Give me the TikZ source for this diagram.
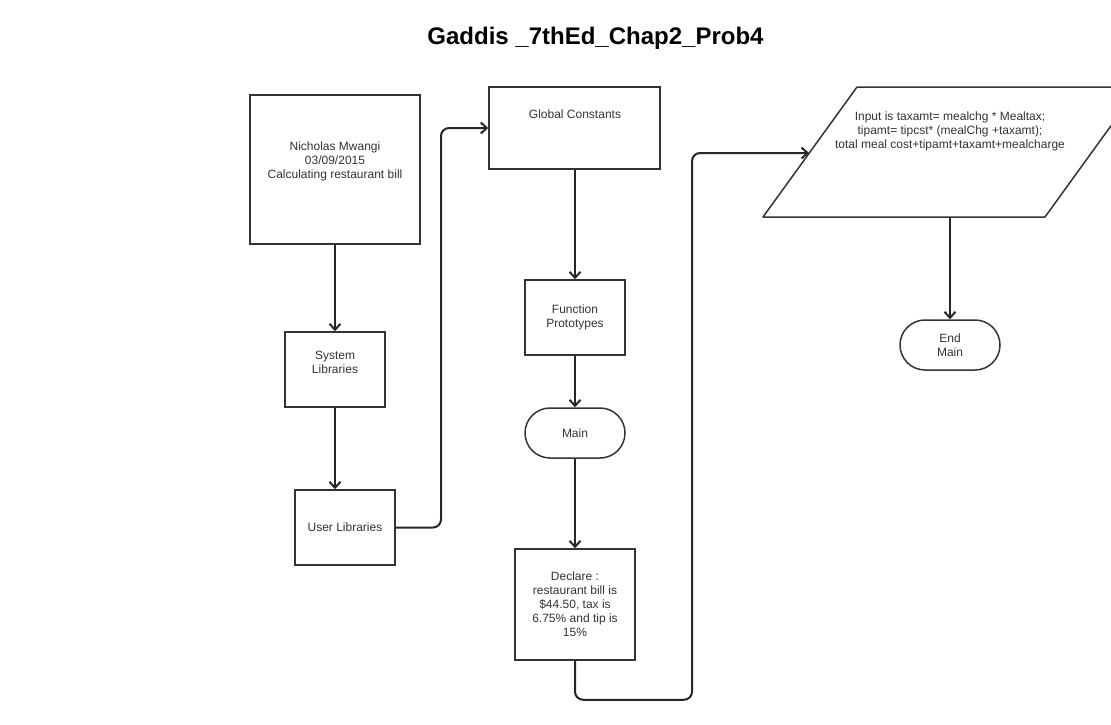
\documentclass[tikz,border=0pt]{standalone}
\usepackage{fontspec}
\setmainfont{Liberation Sans}
\usetikzlibrary{arrows.meta}
\definecolor{inkgray}{HTML}{333333}
\begin{document}
\begin{tikzpicture}[x=1pt,y=-1pt,
  box/.style={draw=inkgray,line width=1.5pt,inner sep=0pt,align=center,text=inkgray,font=\fontsize{12}{14}\selectfont},
  term/.style={box,rounded corners=25pt,minimum width=100pt,minimum height=50pt},
  lbl/.style={align=center,text=inkgray,font=\fontsize{12}{14}\selectfont,inner sep=0pt},
  flow/.style={draw=black!85,line width=2pt,-{Straight Barb[length=6pt,width=11pt]},rounded corners=8pt}]
\useasboundingbox (0,0) rectangle (1111,724);
\clip (0,0) rectangle (1111,724);

\node[font=\fontsize{24}{28}\selectfont\bfseries] (title) at (595.5,38) {Gaddis \_7thEd\_Chap2\_Prob4};

% left column
\node[box,minimum width=170pt,minimum height=149pt] (author) at (335,169.5) {};
\node[lbl] (authortxt) at (335,161) {Nicholas Mwangi\\03/09/2015\\Calculating restaurant bill};
\node[box,minimum width=100pt,minimum height=75pt] (syslib) at (335,369.5) {};
\node[lbl] (syslibtxt) at (335,362) {System\\Libraries};
\node[box,minimum width=100pt,minimum height=75pt] (usrlib) at (345,527.5) {User Libraries};

% middle column
\node[box,minimum width=171pt,minimum height=82pt] (global) at (574.5,128) {};
\node[lbl] (globaltxt) at (575,114) {Global Constants};
\node[box,minimum width=100pt,minimum height=75pt] (proto) at (575,317.5) {Function\\Prototypes};
\node[term] (main) at (575,433) {Main};
\node[box,minimum width=120pt,minimum height=111pt] (decl) at (575,604.5) {Declare :\\restaurant bill is\\\$44.50, tax is\\6.75\% and tip is\\15\%};

% right column (parallelogram runs past the edge)
\draw[draw=inkgray,line width=1.5pt,line join=round] (763,217) -- (857,87) -- (1139,87) -- (1045,217) -- cycle;
\coordinate (calcin) at (809,153);
\coordinate (calcout) at (950,217);
\node[lbl] (calctxt) at (950,131) {Input is taxamt= mealchg * Mealtax;\\tipamt= tipcst* (mealChg +taxamt);\\total meal cost+tipamt+taxamt+mealcharge};
\node[term] (endmain) at (950,345) {End\\Main};

\draw[flow] (author) -- (syslib);
\draw[flow] (syslib.south) -- (syslib.south |- usrlib.north);
\draw[flow] (usrlib.east) -| (441,128) -- (global.west);
\draw[flow] (global.south -| proto.north) -- (proto.north);
\draw[flow] (proto) -- (main);
\draw[flow] (main) -- (decl);
\draw[flow] (decl.south) -- ++(0,39) -| (692,153) -- (calcin);
\draw[flow] (calcout) -- (endmain);

\end{tikzpicture}
\end{document}
